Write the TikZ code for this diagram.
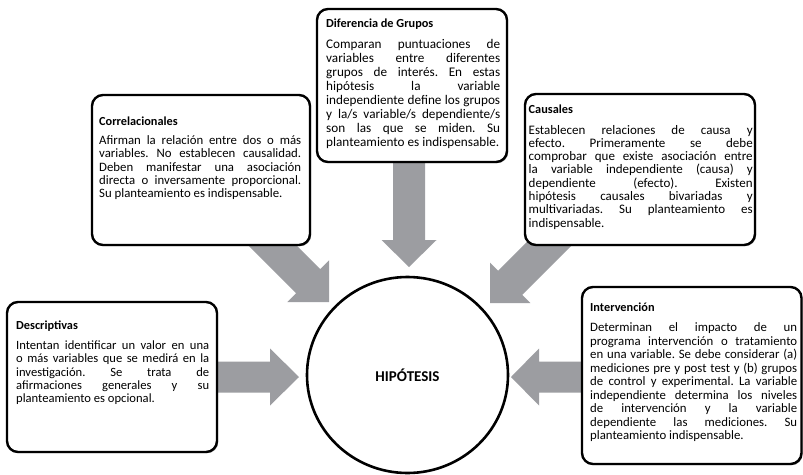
\documentclass[tikz,border=0pt]{standalone}
\usepackage{fontspec}
\setmainfont{Carlito}
\usetikzlibrary{shadows,shapes.geometric}
\definecolor{arrowgray}{RGB}{156,157,161}
\frenchspacing
\newcommand{\jl}[1]{\makebox[\linewidth][s]{#1}\par}
% width, body size, body skip, extra gap, title, body
\newcommand{\boxtext}[6]{\parbox[t]{#1}{\frenchspacing\lineskiplimit=-20pt\fontsize{12.3}{13.3}\selectfont\bfseries #5\par\vspace{#4}\fontsize{#2}{#3}\selectfont\mdseries #6}}
% tip, angle, length, shaft width, head width, head length
\newcommand{\blockarrow}[6]{%
  \begin{scope}[shift={(#1)}, rotate=#2]
    \fill[arrowgray] (0,0) -- (-#6,#5/2) -- (-#6,#4/2) -- (-#3,#4/2) -- (-#3,-#4/2) -- (-#6,-#4/2) -- (-#6,-#5/2) -- cycle;
  \end{scope}}
\tikzset{
  infobox/.style={draw=black, line width=2.4pt, fill=white, rounded corners=11pt,
    drop shadow={shadow xshift=1.2pt, shadow yshift=-1.2pt, fill=black, opacity=0.35},
    inner sep=0pt},
  infotext/.style={anchor=base west, inner sep=0pt},
  hipnode/.style={draw=black, line width=2.6pt, fill=white, ellipse, inner sep=0pt,
    minimum width=201pt, minimum height=196pt, font=\fontsize{15}{18}\selectfont\bfseries}
}
\begin{document}
\begin{tikzpicture}[x=1pt,y=-1pt]
\useasboundingbox (0,0) rectangle (803,474);
\fill[white] (0,0) rectangle (803,474);

% arrow tips
\coordinate (tipTop) at (409,267);
\coordinate (tipLD) at (329,302);
\coordinate (tipRD) at (490,303);
\coordinate (tipL) at (299,377);
\coordinate (tipR) at (511,377);

\blockarrow{tipTop}{-90}{110}{32}{55}{27}
\blockarrow{tipLD}{-45}{99}{34}{59}{29.5}
\blockarrow{tipRD}{-135}{102}{34}{57}{28.5}
\blockarrow{tipL}{0}{90}{31}{57}{29}
\blockarrow{tipR}{180}{80}{31}{57}{28}

% boxes
\node[infobox, minimum width=190pt, minimum height=153pt] (grupos) at (412,85.5) {};
\node[infobox, minimum width=218pt, minimum height=150pt] (corr) at (201,170) {};
\node[infobox, minimum width=230pt, minimum height=151pt] (caus) at (640,169.5) {};
\node[infobox, minimum width=210pt, minimum height=150pt] (desc) at (112,377) {};
\node[infobox, minimum width=219.5pt, minimum height=177pt] (interv) at (691.75,375.5) {};

% circle
\node[hipnode] (hip) at (407.5,375) {HIPÓTESIS};

% texts
\node[infotext] (grupos-t) at (326,27) {\boxtext{174pt}{13.2}{14}{7pt}{Diferencia de Grupos}{%
\jl{Comparan puntuaciones de}
\jl{variables entre diferentes}
\jl{grupos de interés. En estas}
\jl{hipótesis la variable}
\jl{independiente define los grupos}
\jl{y la/s variable/s dependiente/s}
\jl{son las que se miden. Su}
planteamiento es indispensable.}};

\node[infotext] (corr-t) at (99,125) {\boxtext{202pt}{12.8}{13.3}{6.2pt}{Correlacionales}{%
\jl{Afirman la relación entre dos o más}
\jl{variables. No establecen causalidad.}
\jl{Deben manifestar una asociación}
\jl{directa o inversamente proporcional.}
Su planteamiento es indispensable.}};

\node[infotext] (caus-t) at (528.5,113.5) {\boxtext{224pt}{13}{13.3}{7.2pt}{Causales}{%
\jl{Establecen relaciones de causa y}
\jl{efecto. Primeramente se debe}
\jl{comprobar que existe asociación entre}
\jl{la variable independiente (causa) y}
\jl{dependiente (efecto). Existen}
\jl{hipótesis causales bivariadas y}
\jl{multivariadas. Su planteamiento es}
indispensable.}};

\node[infotext] (desc-t) at (16,329.5) {\boxtext{193pt}{12.6}{13.3}{6.7pt}{Descriptivas}{%
\jl{Intentan identificar un valor en una}
\jl{o más variables que se medirá en la}
\jl{investigación. Se trata de}
\jl{afirmaciones generales y su}
planteamiento es opcional.}};

\node[infotext] (interv-t) at (590,311) {\boxtext{207pt}{12.8}{13.5}{7.2pt}{Intervención}{%
\jl{Determinan el impacto de un}
\jl{programa intervención o tratamiento}
\jl{en una variable. Se debe considerar (a)}
\jl{mediciones pre y post test y (b) grupos}
\jl{de control y experimental. La variable}
\jl{independiente determina los niveles}
\jl{de intervención y la variable}
\jl{dependiente las mediciones. Su}
planteamiento indispensable.}};
\end{tikzpicture}
\end{document}
